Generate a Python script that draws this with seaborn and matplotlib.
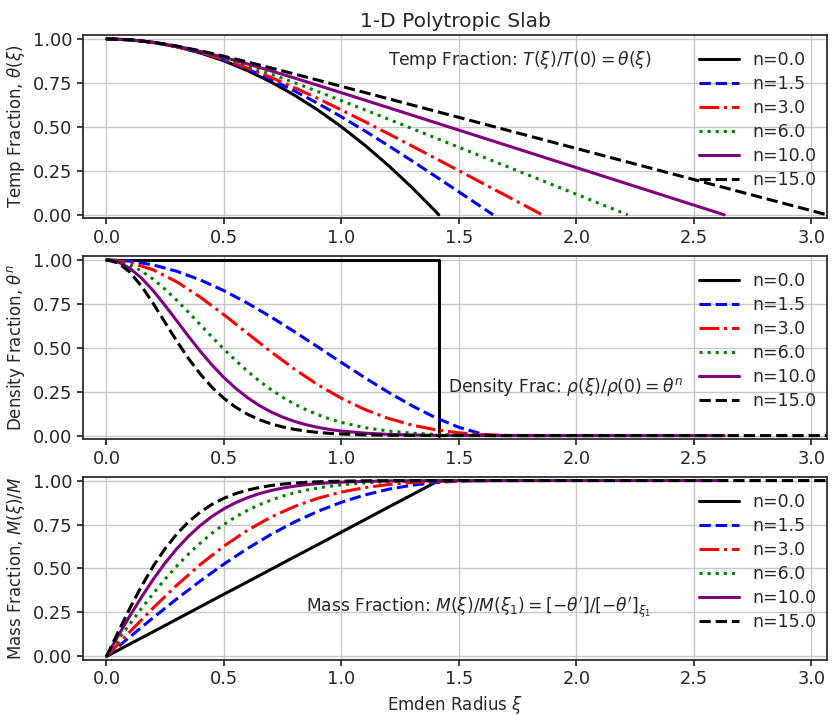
import matplotlib
matplotlib.use("Agg")
import matplotlib.pyplot as plt
import pandas as pd
import seaborn as sns

# sample positions along the Emden radius
XI = [0.0, 0.1, 0.2, 0.3, 0.4, 0.5, 0.6, 0.7, 0.8, 0.9, 1.0, 1.1, 1.2, 1.3, 1.4,
      1.5, 1.6, 1.7, 1.8, 1.9, 2.0, 2.1, 2.2, 2.3, 2.4, 2.5, 2.6, 2.7, 2.8, 2.9, 3.0]
# finer steps near the centre for the steep high-n curves
XI_FINE = [0.0, 0.05, 0.1, 0.15, 0.2, 0.25, 0.3, 0.35, 0.4, 0.45, 0.5, 0.55, 0.6,
           0.65, 0.7, 0.75, 0.8, 0.85, 0.9, 0.95, 1.0, 1.1, 1.2, 1.3, 1.4, 1.5,
           1.6, 1.7, 1.8, 1.9, 2.0, 2.1, 2.2, 2.3, 2.4, 2.5, 2.6, 2.7, 2.8, 2.9, 3.0]

n_values = [0.0, 1.5, 3.0, 6.0, 10.0, 15.0]
xi_surface = [1.414, 1.645, 1.854, 2.218, 2.629, 3.066]

# --- temperature fraction theta(xi) ---
theta_n0 = [1.0, 0.995, 0.98, 0.955, 0.92, 0.875, 0.82, 0.755, 0.68, 0.595, 0.5,
            0.395, 0.28, 0.155, 0.02, 0.0]
theta_n1_5 = [1.0, 0.995, 0.9801, 0.9555, 0.9216, 0.8788, 0.8278, 0.7693, 0.704,
              0.6329, 0.5567, 0.4763, 0.3927, 0.3066, 0.2187, 0.1299, 0.0406, 0.0]
theta_n3 = [1.0, 0.995, 0.9802, 0.956, 0.9231, 0.8823, 0.8346, 0.7811, 0.7229,
            0.6609, 0.596, 0.5289, 0.4604, 0.3909, 0.3207, 0.2503, 0.1796, 0.109,
            0.0382, 0.0]
theta_n6 = [1.0, 0.995, 0.9804, 0.9569, 0.9258, 0.8883, 0.846, 0.7997, 0.7511,
            0.7006, 0.6489, 0.5964, 0.5435, 0.4903, 0.437, 0.3836, 0.3302, 0.2767,
            0.2233, 0.1698, 0.1164, 0.0629, 0.0095, 0.0]
theta_n10 = [1.0, 0.995, 0.9806, 0.958, 0.9289, 0.895, 0.8579, 0.8183, 0.7776,
             0.7359, 0.6939, 0.6515, 0.609, 0.5665, 0.5238, 0.4812, 0.4385, 0.3959,
             0.3533, 0.3106, 0.268, 0.2254, 0.1827, 0.1401, 0.0974, 0.0548, 0.0122,
             0.0]
theta_n15 = [1.0, 0.9951, 0.9809, 0.9592, 0.9322, 0.9016, 0.8689, 0.835, 0.8004,
             0.7654, 0.7302, 0.6949, 0.6596, 0.6243, 0.5889, 0.5536, 0.5182, 0.4828,
             0.4475, 0.4121, 0.3768, 0.3414, 0.3061, 0.2707, 0.2354, 0.2, 0.1647,
             0.1293, 0.0939, 0.0586, 0.0232, 0.0]

# --- density fraction theta^n ---
dens_n0 = [1.0, 1.0, 1.0, 1.0, 1.0, 1.0, 1.0, 1.0, 1.0, 1.0, 1.0, 1.0, 1.0, 1.0,
           1.0, 1.0, 0.0]
dens_n1_5 = [1.0, 0.9925, 0.9703, 0.934, 0.8847, 0.8238, 0.7531, 0.6748, 0.5907,
             0.5035, 0.4154, 0.3287, 0.2461, 0.1698, 0.1023, 0.0468, 0.0082, 0.0]
dens_n3 = [1.0, 0.9851, 0.9418, 0.8737, 0.7865, 0.6868, 0.5814, 0.4766, 0.3778,
           0.2887, 0.2117, 0.148, 0.0976, 0.0597, 0.033, 0.0157, 0.0058, 0.0013,
           0.0001, 0.0]
dens_n6 = [1.0, 0.9924, 0.9704, 0.935, 0.888, 0.8314, 0.7677, 0.6997, 0.6296,
           0.5595, 0.4913, 0.4268, 0.3666, 0.3113, 0.2619, 0.2178, 0.1795, 0.1464,
           0.1183, 0.0945, 0.0747,
           0.045, 0.0258, 0.0139, 0.007, 0.0032, 0.0013, 0.0005, 0.0001, 0.0, 0.0,
           0.0, 0.0, 0.0]
dens_n10 = [1.0, 0.9873, 0.9511, 0.8945, 0.8221, 0.7391, 0.6511, 0.5629, 0.4783,
            0.4, 0.3298, 0.2685, 0.2159, 0.1714, 0.1346, 0.1048, 0.0808, 0.0617,
            0.0466, 0.0349, 0.0259,
            0.0138, 0.007, 0.0034, 0.0016, 0.0007, 0.0003, 0.0001, 0.0, 0.0, 0.0,
            0.0, 0.0, 0.0, 0.0, 0.0, 0.0, 0.0]
dens_n15 = [1.0, 0.9816, 0.929, 0.8479, 0.7488, 0.642, 0.5354, 0.4363, 0.3488,
            0.2735, 0.2115, 0.1614, 0.1215, 0.0906, 0.0669, 0.0489, 0.0355, 0.0254,
            0.0181, 0.0128, 0.0089,
            0.0043, 0.0019, 0.0009, 0.0004, 0.0001, 0.0, 0.0, 0.0, 0.0, 0.0, 0.0,
            0.0, 0.0, 0.0, 0.0, 0.0, 0.0, 0.0, 0.0, 0.0, 0.0]

# --- mass fraction M(xi)/M ---
mass_n0 = [0.0, 0.071, 0.141, 0.212, 0.283, 0.354, 0.424, 0.495, 0.566, 0.636,
           0.707, 0.778, 0.849, 0.919, 0.99, 1.0]
mass_n1_5 = [0.0, 0.1116, 0.2214, 0.328, 0.4297, 0.5254, 0.6137, 0.6935, 0.7643,
             0.8254, 0.8768, 0.9184, 0.9505, 0.9736, 0.9888, 0.997, 0.9998, 1.0]
mass_n3 = [0.0, 0.1408, 0.2773, 0.4059, 0.5235, 0.6278, 0.7175, 0.7923, 0.8526,
           0.8996, 0.9348, 0.9601, 0.9773, 0.9883, 0.9947, 0.998, 0.9995, 0.9999,
           1.0, 1.0]
mass_n6 = [0.0, 0.0941, 0.1857, 0.2746, 0.3597, 0.4402, 0.5151, 0.5837, 0.6458,
           0.7015, 0.7507, 0.7935, 0.8306, 0.8624, 0.8891, 0.9116, 0.9301, 0.9454,
           0.9577, 0.9676, 0.9755,
           0.9865, 0.993, 0.9966, 0.9985, 0.9994, 0.9998, 0.9999, 1.0, 1.0, 1.0,
           1.0, 1.0, 1.0]
mass_n10 = [0.0, 0.1182, 0.2316, 0.3397, 0.4403, 0.5319, 0.6134, 0.6845, 0.7455,
            0.7969, 0.8396, 0.8744, 0.9026, 0.9254, 0.9433, 0.9573, 0.9681, 0.9764,
            0.9827, 0.9875, 0.991,
            0.9955, 0.9979, 0.999, 0.9996, 0.9998, 0.9999, 1.0, 1.0, 1.0, 1.0, 1.0,
            1.0, 1.0, 1.0, 1.0, 1.0, 1.0]
mass_n15 = [0.0, 0.1401, 0.2749, 0.4017, 0.5153, 0.6137, 0.6975, 0.7663, 0.8215,
            0.8655, 0.8996, 0.9258, 0.9457, 0.9606, 0.9717, 0.9798, 0.9857, 0.99,
            0.993, 0.9952, 0.9967,
            0.9985, 0.9994, 0.9997, 0.9999, 1.0, 1.0, 1.0, 1.0, 1.0, 1.0, 1.0, 1.0,
            1.0, 1.0, 1.0, 1.0, 1.0, 1.0, 1.0, 1.0, 1.0]

theta_all = [theta_n0, theta_n1_5, theta_n3, theta_n6, theta_n10, theta_n15]
dens_all = [dens_n0, dens_n1_5, dens_n3, dens_n6, dens_n10, dens_n15]
mass_all = [mass_n0, mass_n1_5, mass_n3, mass_n6, mass_n10, mass_n15]
theta_grids = [XI, XI, XI, XI, XI, XI]
profile_grids = [XI, XI, XI, XI_FINE, XI_FINE, XI_FINE]

colors = ["black", "blue", "red", "green", "purple", "black"]
styles = ["-", "--", "-.", ":", "-", "--"]


def xi_for(vals, grid, xi1):
    # grid points inside the slab, then the surface point for the rest
    k = sum(1 for x in grid if x < xi1)
    return grid[:k] + [xi1] * (len(vals) - k)


rows = []
panels = [("temp", theta_all, theta_grids), ("dens", dens_all, profile_grids),
          ("mass", mass_all, profile_grids)]
for panel, series, grids in panels:
    for n, xi1, vals, grid in zip(n_values, xi_surface, series, grids):
        for x, v in zip(xi_for(vals, grid, xi1), vals):
            rows.append({"panel": panel, "n": n, "xi": x, "value": v})
df = pd.DataFrame(rows)

sns.set_theme(style="whitegrid")
plt.rcParams.update({
    "axes.edgecolor": ".15",
    "axes.linewidth": 1.25,
    "xtick.bottom": True,
    "ytick.left": True,
    "xtick.major.size": 4,
    "ytick.major.size": 4,
    "grid.color": ".78",
    "font.family": ["DejaVu Sans"],
})

fig, axes = plt.subplots(3, 1, figsize=(8.33, 7.15), dpi=100)
fig.subplots_adjust(left=0.0996, right=0.9928, top=0.951, bottom=0.077, hspace=0.205)

ylabels = [r"Temp Fraction, $\theta(\xi)$", r"Density Fraction, $\theta^n$",
           r"Mass Fraction, $M(\xi)/M$"]
notes = [(1.2, 0.85, r"Temp Fraction: $T(\xi)/T(0) = \theta(\xi)$"),
         (1.455, 0.25, r"Density Frac: $\rho(\xi)/\rho(0) = \theta^n$"),
         (0.85, 0.25, r"Mass Fraction: $M(\xi)/M(\xi_1) = [-\theta']/[-\theta']_{\xi_1}$")]

for ax, panel, ylab, note in zip(axes, ["temp", "dens", "mass"], ylabels, notes):
    sub = df[df["panel"] == panel]
    for n, c, ls in zip(n_values, colors, styles):
        d = sub[sub["n"] == n]
        sns.lineplot(data=d, x="xi", y="value", ax=ax, color=c, linestyle=ls,
                     linewidth=2.2, label=f"n={n:.1f}", sort=False, estimator=None)
    ax.set_xlim(-0.1, 3.066)
    ax.set_ylim(-0.02, 1.022)
    ax.set_yticks([0.0, 0.25, 0.5, 0.75, 1.0])
    ax.set_yticklabels(["0.00", "0.25", "0.50", "0.75", "1.00"])
    ax.set_xticks([0.0, 0.5, 1.0, 1.5, 2.0, 2.5, 3.0])
    ax.set_xticklabels(["0.0", "0.5", "1.0", "1.5", "2.0", "2.5", "3.0"])
    ax.tick_params(labelsize=12.8)
    ax.set_ylabel(ylab, fontsize=12)
    ax.set_xlabel("")
    ax.text(note[0], note[1], note[2], fontsize=12.3, color=".15")
    ax.legend(loc="center right", bbox_to_anchor=(1.0, 0.535), frameon=False,
              fontsize=12.5, handlelength=2.3, borderaxespad=0.2,
              labelspacing=0.34)

axes[0].set_title("1-D Polytropic Slab", fontsize=14.5)
axes[2].set_xlabel(r"Emden Radius $\xi$", fontsize=12)

fig.savefig("out.png", dpi=100)
